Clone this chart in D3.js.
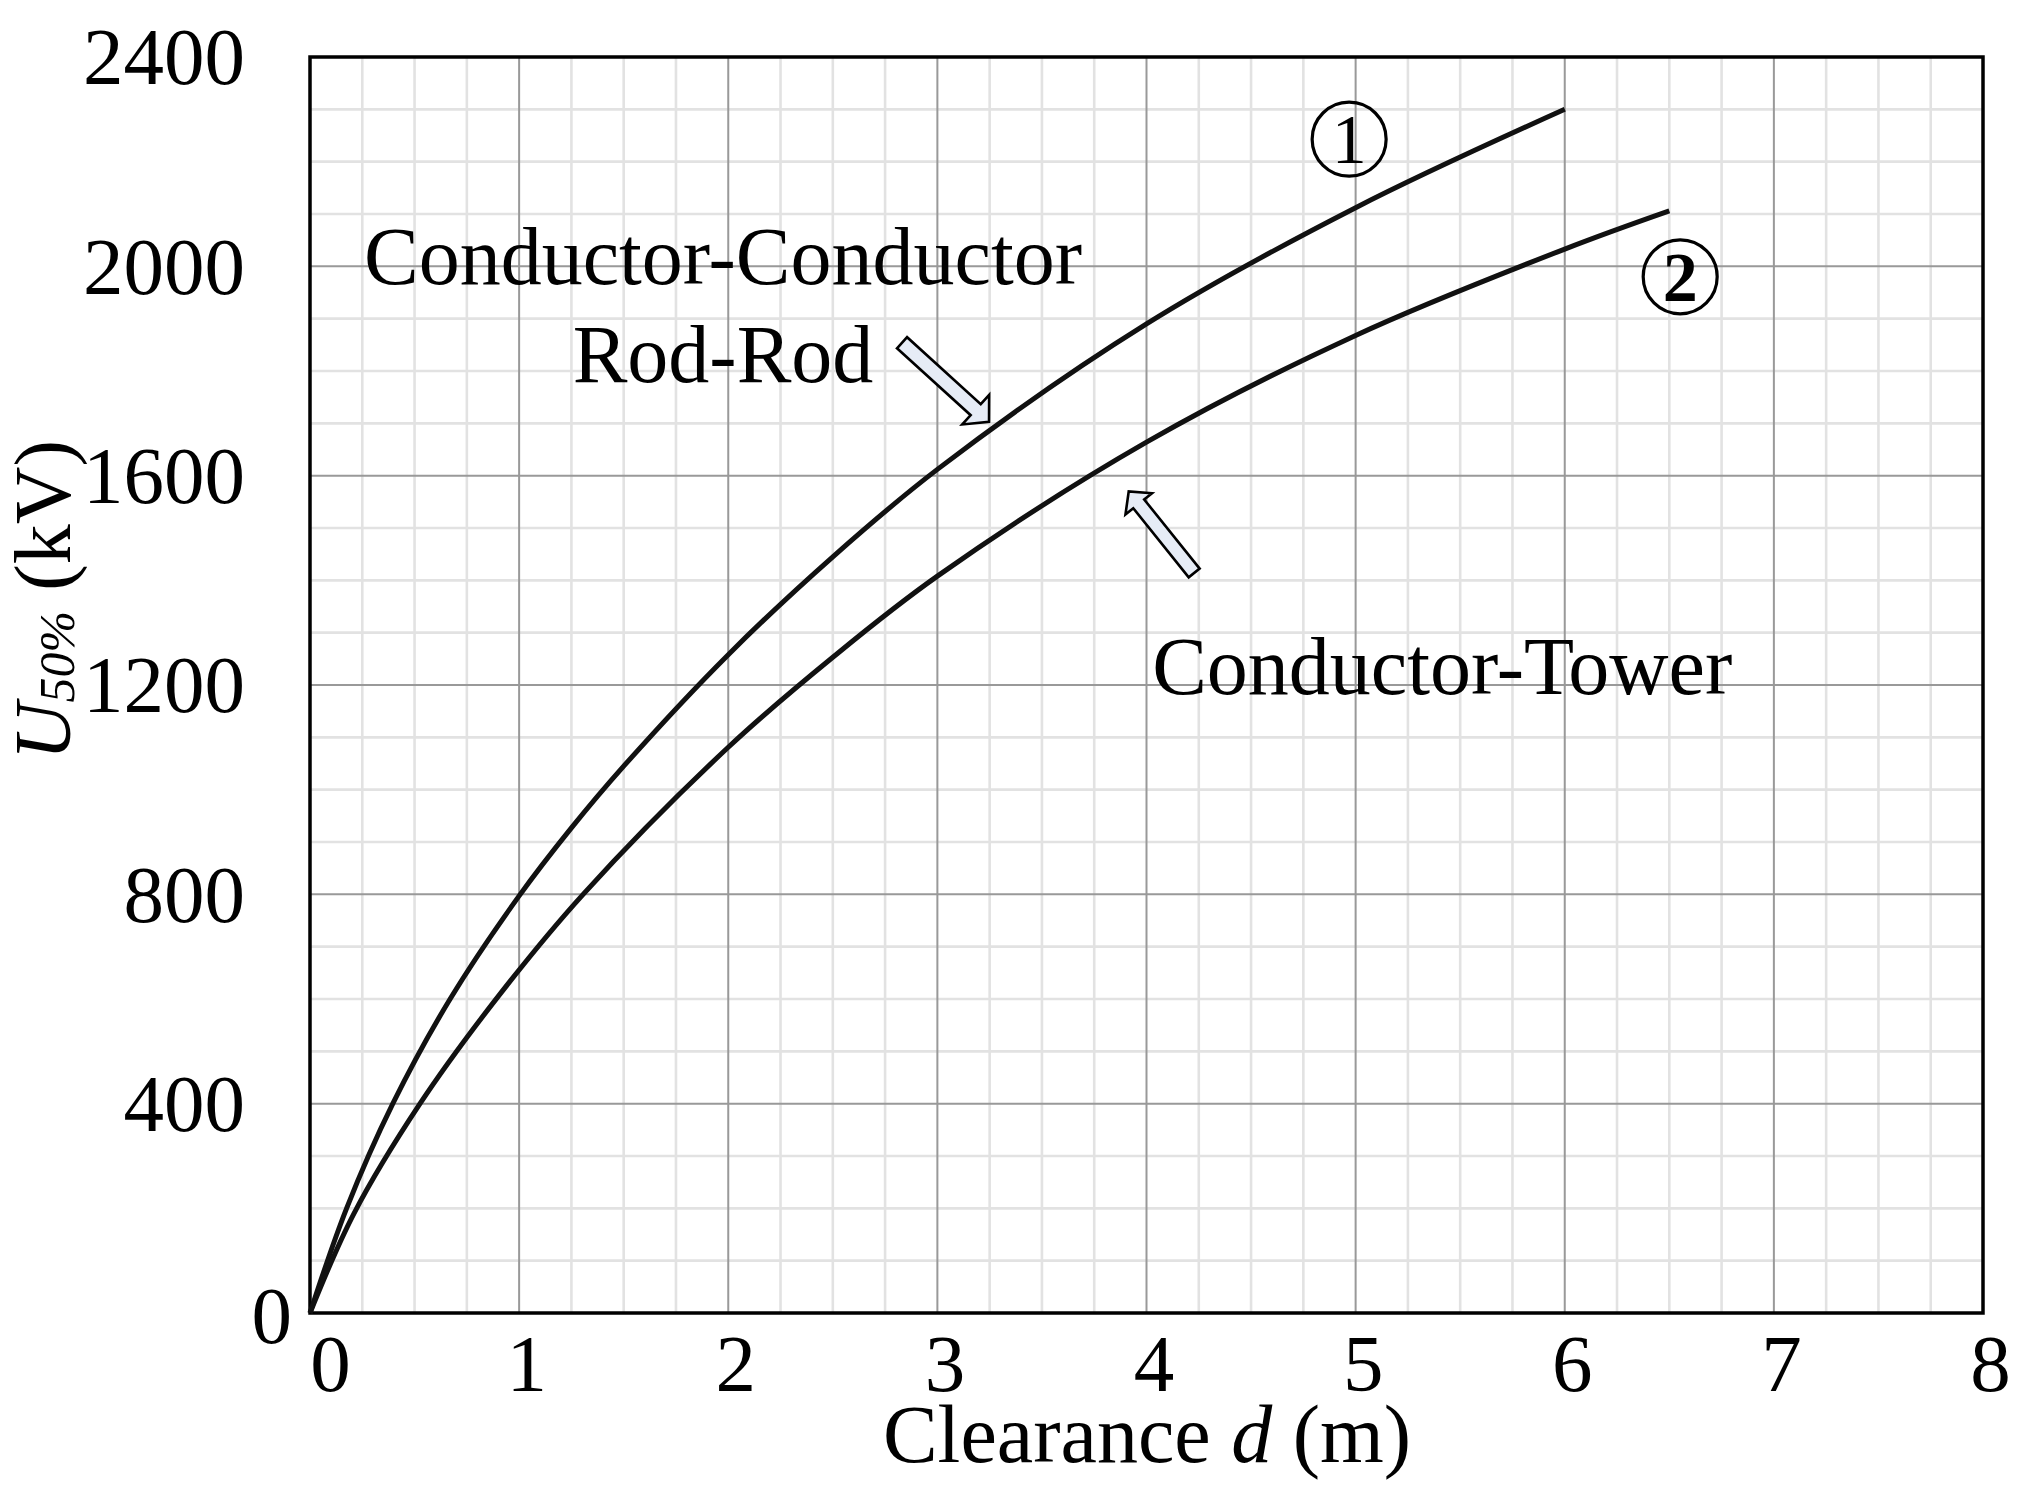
<!DOCTYPE html>
<html>
<head>
<meta charset="utf-8">
<script src="https://cdn.jsdelivr.net/npm/d3@7"></script>
<style>
  html, body { margin: 0; padding: 0; background: #fff; }
  svg { display: block; }
  text { font-family: "Liberation Serif", "Times New Roman", serif; fill: #000; }
</style>
</head>
<body>
<svg id="chart" width="2023" height="1491"></svg>
<script>
// ---- data ----
const xTickValues = [0, 1, 2, 3, 4, 5, 6, 7, 8];
const yTickValues = [0, 400, 800, 1200, 1600, 2000, 2400];

// Curve ① Conductor-Conductor / Rod-Rod
const clearance1 = [0, 0.175, 0.396, 0.67, 1.0, 1.25, 1.5, 2.0, 2.5, 3.0, 4.0, 5.0, 6.0];
const voltage1   = [0, 200, 400, 600, 797, 927, 1045, 1258, 1445, 1612, 1890, 2112, 2300];

// Curve ② Conductor-Tower
const clearance2 = [0, 0.21, 0.526, 0.9, 1.306, 2.0, 2.5, 3.0, 4.0, 5.0, 6.0, 6.5];
const voltage2   = [0, 190, 400, 605, 800, 1081, 1253, 1408, 1664, 1868, 2033, 2106];

const curveLabels = ["1", "2"];
const annotationTexts = ["Conductor-Conductor", "Rod-Rod", "Conductor-Tower"];

// ---- layout ----
const svg = d3.select("#chart");
const pLeft = 310, pRight = 1983, pTop = 57, pBottom = 1313;
const x = d3.scaleLinear().domain([0, 8]).range([pLeft, pRight]);
const y = d3.scaleLinear().domain([0, 2400]).range([pBottom, pTop]);
const FS = 81;

// grid
const grid = svg.append("g");
const minorX = d3.range(0, 8.0001, 0.25).filter(v => Math.abs(v - Math.round(v)) > 1e-6);
const minorY = d3.range(0, 2400.1, 100).filter(v => v % 400 !== 0);
grid.selectAll(".mx").data(minorX).join("line")
  .attr("x1", d => x(d)).attr("x2", d => x(d)).attr("y1", pTop).attr("y2", pBottom)
  .attr("stroke", "#e2e2e2").attr("stroke-width", 2.6);
grid.selectAll(".my").data(minorY).join("line")
  .attr("y1", d => y(d)).attr("y2", d => y(d)).attr("x1", pLeft).attr("x2", pRight)
  .attr("stroke", "#e2e2e2").attr("stroke-width", 2.6);
grid.selectAll(".Mx").data(xTickValues.slice(1, -1)).join("line")
  .attr("x1", d => x(d)).attr("x2", d => x(d)).attr("y1", pTop).attr("y2", pBottom)
  .attr("stroke", "#999").attr("stroke-width", 2);
grid.selectAll(".My").data(yTickValues.slice(1, -1)).join("line")
  .attr("y1", d => y(d)).attr("y2", d => y(d)).attr("x1", pLeft).attr("x2", pRight)
  .attr("stroke", "#999").attr("stroke-width", 2);

// frame
svg.append("rect").attr("x", pLeft).attr("y", pTop)
  .attr("width", pRight - pLeft).attr("height", pBottom - pTop)
  .attr("fill", "none").attr("stroke", "#000").attr("stroke-width", 3.5);

// axes (labels only)
const xAxis = d3.axisBottom(x).tickValues(xTickValues).tickSize(0).tickFormat(d3.format("d"));
const gx = svg.append("g").attr("transform", `translate(0,${pBottom})`).call(xAxis);
gx.select(".domain").remove();
gx.selectAll("text")
  .attr("font-size", FS).attr("font-family", "Liberation Serif")
  .attr("dy", null).attr("y", 78)
  .attr("dx", (d, i) => i === 0 ? 20 : 7);

const yAxis = d3.axisLeft(y).tickValues(yTickValues).tickSize(0).tickFormat(d3.format("d"));
const gy = svg.append("g").attr("transform", `translate(${pLeft},0)`).call(yAxis);
gy.select(".domain").remove();
gy.selectAll("text")
  .attr("font-size", FS).attr("font-family", "Liberation Serif")
  .attr("x", d => d === 0 ? -18 : -65)
  .attr("dy", d => d === 0 ? "0.36em" : "0.33em");

// curves
const line = d3.line().x(d => x(d[0])).y(d => y(d[1])).curve(d3.curveCatmullRom.alpha(0.5));
const series = [d3.zip(clearance1, voltage1), d3.zip(clearance2, voltage2)];
svg.selectAll(".curve").data(series).join("path")
  .attr("d", line).attr("fill", "none").attr("stroke", "#111")
  .attr("stroke-width", 5).attr("stroke-linecap", "butt");

// annotations
const ann = svg.append("g").attr("font-size", 82);
ann.append("text").attr("x", x(1.975)).attr("y", y(1966)).attr("text-anchor", "middle").text(annotationTexts[0]);
ann.append("text").attr("x", x(1.975)).attr("y", y(1779)).attr("text-anchor", "middle").text(annotationTexts[1]);
ann.append("text").attr("x", x(5.414)).attr("y", y(1183)).attr("text-anchor", "middle").text(annotationTexts[2]);

// circled numbers
const circ = [[4.969, 2243], [6.552, 1980]];
circ.forEach((c, i) => {
  svg.append("circle").attr("cx", x(c[0])).attr("cy", y(c[1])).attr("r", 37)
    .attr("fill", "none").attr("stroke", "#000").attr("stroke-width", 3.2);
  svg.append("text").attr("x", x(c[0])).attr("y", y(c[1])).attr("dy", "0.34em")
    .attr("text-anchor", "middle").attr("font-size", 70).attr("font-weight", i === 1 ? "bold" : "normal")
    .text(curveLabels[i]);
});

// block arrows
function blockArrow(t, p, w, hw, hl) {
  const dx = p[0] - t[0], dy = p[1] - t[1], L = Math.hypot(dx, dy);
  const u = [dx / L, dy / L], n = [-u[1], u[0]];
  const b = [p[0] - u[0] * hl, p[1] - u[1] * hl];
  const pts = [
    [t[0] + n[0] * w / 2, t[1] + n[1] * w / 2],
    [b[0] + n[0] * w / 2, b[1] + n[1] * w / 2],
    [b[0] + n[0] * hw / 2, b[1] + n[1] * hw / 2],
    p,
    [b[0] - n[0] * hw / 2, b[1] - n[1] * hw / 2],
    [b[0] - n[0] * w / 2, b[1] - n[1] * w / 2],
    [t[0] - n[0] * w / 2, t[1] - n[1] * w / 2]
  ];
  svg.append("polygon").attr("points", pts.map(q => q.join(",")).join(" "))
    .attr("fill", "#e6ecf6").attr("stroke", "#000").attr("stroke-width", 2.6)
    .attr("stroke-linejoin", "miter");
}
blockArrow([x(2.831), y(1854)], [x(3.247), y(1703)], 15, 40, 18);
blockArrow([x(4.228), y(1414)], [x(3.915), y(1570)], 14, 34, 16);

// axis titles
const yt = svg.append("text").attr("transform", "translate(70,600) rotate(-90)")
  .attr("text-anchor", "middle").attr("font-size", 80);
yt.append("tspan").attr("font-style", "italic").text("U");
yt.append("tspan").attr("font-style", "italic").attr("font-size", 50).attr("dy", 4).text("50%");
yt.append("tspan").attr("dy", -4).text(" (kV)");

const xt = svg.append("text").attr("x", 1147).attr("y", 1462)
  .attr("text-anchor", "middle").attr("font-size", 82);
xt.append("tspan").text("Clearance ");
xt.append("tspan").attr("font-style", "italic").text("d");
xt.append("tspan").text(" (m)");
</script>
</body>
</html>
